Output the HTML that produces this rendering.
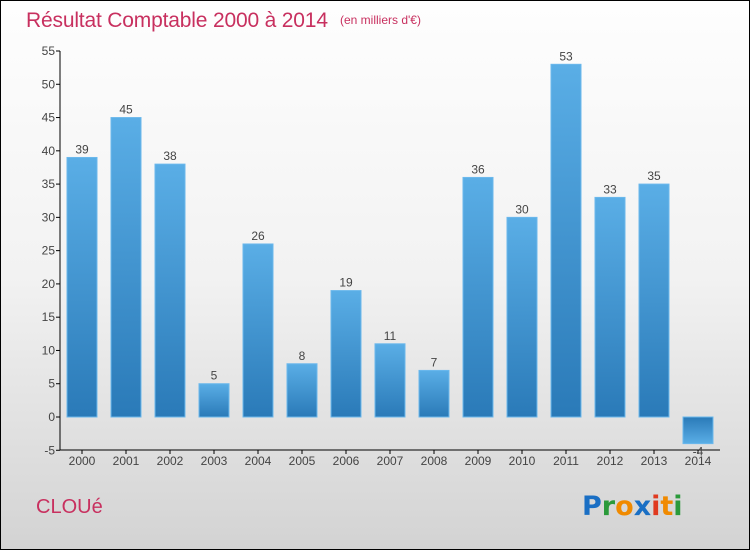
<!DOCTYPE html>
<html><head><meta charset="utf-8"><style>
body{margin:0}
#c{width:750px;height:550px;position:relative;box-sizing:border-box;border:1px solid #000;background:linear-gradient(#fefefe,#f2f2f2 50%,#d3d3d3);font-family:"Liberation Sans",sans-serif;overflow:hidden}
</style></head><body>
<div id="c">
<svg width="750" height="550" id="s" style="position:absolute;left:-1px;top:-1px">
<defs>
<linearGradient id="gp" x1="0" y1="0" x2="0" y2="1"><stop offset="0" stop-color="#5aaee6"/><stop offset="1" stop-color="#2a7ab8"/></linearGradient>
<linearGradient id="gn" x1="0" y1="0" x2="0" y2="1"><stop offset="0" stop-color="#2a7ab8"/><stop offset="1" stop-color="#5aaee6"/></linearGradient>
</defs>
<text x="26" y="27" font-size="21" fill="#c8305f" textLength="302">Résultat Comptable 2000 à 2014</text>
<text x="340" y="24" font-size="12" fill="#c8305f">(en milliers d'€)</text>
<text x="36" y="513" font-size="20" fill="#c8305f">CLOUé</text>
<text x="582" y="515" font-size="27" font-weight="bold" font-family="'DejaVu Sans',sans-serif"><tspan fill="#1a6fc4">P</tspan><tspan fill="#2a9a3a">r</tspan><tspan fill="#f08a00">o</tspan><tspan fill="#1a6fc4">x</tspan><tspan fill="#e03a20">i</tspan><tspan fill="#f08a00">t</tspan><tspan fill="#2a9a3a">i</tspan></text>
<g id="g"></g>
</svg>
</div>
<script>
const years=["2000","2001","2002","2003","2004","2005","2006","2007","2008","2009","2010","2011","2012","2013","2014"];
const values=[39,45,38,5,26,8,19,11,7,36,30,53,33,35,-4];
const yTicks=[-5,0,5,10,15,20,25,30,35,40,45,50,55];
const g=document.getElementById('g');
const NS='http://www.w3.org/2000/svg';
function y(v){return 417-v*366/55;}
function x(i){return 82+i*44;}
function mk(t,a){const e=document.createElementNS(NS,t);for(const k in a)e.setAttribute(k,a[k]);g.appendChild(e);return e;}
let e=mk('line',{x1:60,y1:y(55),x2:60,y2:450,stroke:'#000'});


e=mk('line',{x1:60,y1:450,x2:720,y2:450,stroke:'#000'});


yTicks.forEach(v=>{
 let t=mk('line',{x1:56,y1:y(v),x2:60,y2:y(v),stroke:'#000'});
 
 
 let l=mk('text',{x:55,y:y(v)+4,'font-size':12,fill:'#444','text-anchor':'end'});
 l.textContent=v;
 
 
});
years.forEach((yr,i)=>{
 const v=values[i];
 let b=mk('rect',{x:x(i)-15,y:Math.min(y(v),y(0)),width:30,height:Math.abs(y(v)-y(0)),fill:v>=0?'url(#gp)':'url(#gn)',stroke:'#6bb8ec','stroke-width':1});
 
 
 let t=mk('line',{x1:x(i),y1:450,x2:x(i),y2:454,stroke:'#000'});
 
 
 let l=mk('text',{x:x(i),y:465,'font-size':12,fill:'#444','text-anchor':'middle'});
 l.textContent=yr;
 
 
 let vl=mk('text',{x:x(i),y:v>=0?y(v)-4:y(v)+12,'font-size':12,fill:'#444','text-anchor':'middle'});
 vl.textContent=v;
 
 
});
</script>
</body></html>
